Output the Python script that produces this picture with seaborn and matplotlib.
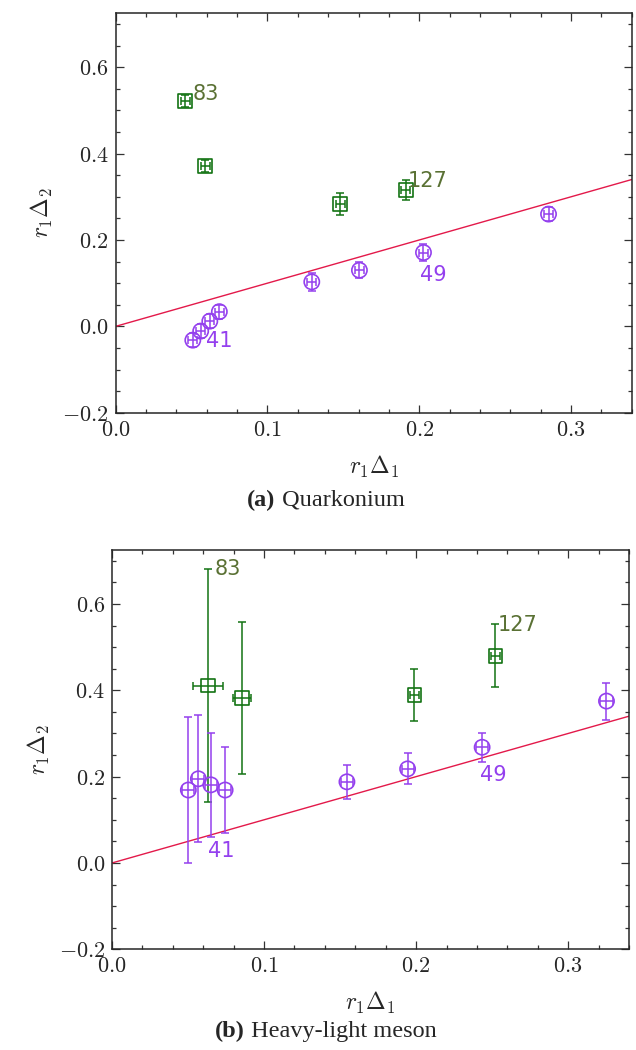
import numpy as np
import pandas as pd
import matplotlib
matplotlib.use("Agg")
import matplotlib.pyplot as plt
from matplotlib.ticker import MultipleLocator, FuncFormatter
import seaborn as sns

# ---------------- data ----------------
# (a) Quarkonium
qa_sq_x = [0.0457, 0.0589, 0.1479, 0.1912]
qa_sq_y = [0.522, 0.371, 0.283, 0.316]
qa_sq_xerr = [0.003, 0.003, 0.003, 0.003]
qa_sq_yerr = [0.014, 0.014, 0.025, 0.023]

qa_ci_x = [0.0508, 0.0560, 0.0620, 0.0683, 0.1292, 0.1606, 0.2028, 0.2852]
qa_ci_y = [-0.032, -0.011, 0.012, 0.034, 0.103, 0.130, 0.171, 0.260]
qa_ci_xerr = [0.003, 0.003, 0.003, 0.003, 0.003, 0.003, 0.003, 0.003]
qa_ci_yerr = [0.016, 0.016, 0.016, 0.016, 0.021, 0.018, 0.019, 0.016]

# (b) Heavy-light meson
hl_sq_x = [0.0630, 0.0856, 0.1988, 0.2521]
hl_sq_y = [0.411, 0.382, 0.389, 0.480]
hl_sq_xerr = [0.010, 0.0057, 0.003, 0.003]
hl_sq_yerr = [0.270, 0.177, 0.061, 0.073]

hl_ci_x = [0.0502, 0.0568, 0.0650, 0.0744, 0.1545, 0.1944, 0.2434, 0.3252]
hl_ci_y = [0.169, 0.195, 0.181, 0.169, 0.188, 0.218, 0.268, 0.375]
hl_ci_xerr = [0.004, 0.004, 0.004, 0.004, 0.004, 0.004, 0.004, 0.004]
hl_ci_yerr = [0.170, 0.147, 0.121, 0.100, 0.040, 0.036, 0.034, 0.043]

line_slope = 1.0

sq_labels = ["83", "127"]
ci_labels = ["41", "49"]
caption_tags = ["(a)", "(b)"]
caption_names = ["Quarkonium", "Heavy-light meson"]

# ---------------- style ----------------
sns.set_style("ticks")
plt.rcParams["font.family"] = ["DejaVu Sans"]
plt.rcParams["mathtext.fontset"] = "cm"

GREEN = "#137313"
GREEN_TXT = "#5a7134"
PURPLE = "#9440ee"
RED = "#e3194a"

fig = plt.figure(figsize=(6.36, 10.5), dpi=100)
ax_a = fig.add_axes([115.7 / 636, 1 - 412.7 / 1050, (631.7 - 115.7) / 636, (412.7 - 13.3) / 1050])
ax_b = fig.add_axes([112 / 636, 1 - 949.3 / 1050, (629 - 112) / 636, (949.3 - 550) / 1050])

XLIM = (0.0, 0.34)
YLIM = (-0.2, 0.725)

fmt = FuncFormatter(lambda v, p: "$%.1f$" % v if abs(v) > 1e-9 else "$0.0$")


def draw(ax, sqx, sqy, sqxe, sqye, cix, ciy, cixe, ciye, lab_specs):
    xs = np.array(XLIM)
    line_df = pd.DataFrame({"x": xs, "y": line_slope * xs})
    sns.lineplot(data=line_df, x="x", y="y", ax=ax, color=RED, lw=1.0, zorder=1)

    ax.errorbar(sqx, sqy, xerr=sqxe, yerr=sqye, fmt="none", ecolor=GREEN,
                elinewidth=1.1, capsize=2.6, capthick=1.1, zorder=2)
    ax.errorbar(cix, ciy, xerr=cixe, yerr=ciye, fmt="none", ecolor=PURPLE,
                elinewidth=1.1, capsize=2.6, capthick=1.1, zorder=2)

    sq_df = pd.DataFrame({"x": sqx, "y": sqy})
    ci_df = pd.DataFrame({"x": cix, "y": ciy})
    sns.scatterplot(data=sq_df, x="x", y="y", ax=ax, marker="s", s=95,
                    facecolor="none", edgecolor=GREEN, linewidth=1.2, zorder=3)
    sns.scatterplot(data=ci_df, x="x", y="y", ax=ax, marker="o", s=120,
                    facecolor="none", edgecolor=PURPLE, linewidth=1.2, zorder=3)

    for text, x, y, dx, dy, col in lab_specs:
        ax.annotate(text, (x, y), xytext=(dx, dy), textcoords="offset pixels",
                    ha="left", va="baseline", color=col, fontsize=15,
                    family="DejaVu Sans")

    ax.set_xlim(*XLIM)
    ax.set_ylim(*YLIM)
    ax.xaxis.set_major_locator(MultipleLocator(0.1))
    ax.xaxis.set_minor_locator(MultipleLocator(0.02))
    ax.yaxis.set_major_locator(MultipleLocator(0.2))
    ax.yaxis.set_minor_locator(MultipleLocator(0.05))
    ax.xaxis.set_major_formatter(fmt)
    ax.yaxis.set_major_formatter(fmt)
    ax.tick_params(which="both", direction="in", top=True, right=True,
                   width=0.9, color="#333333")
    ax.tick_params(which="major", length=6, labelsize=16, pad=5)
    ax.tick_params(which="minor", length=3)
    for s in ax.spines.values():
        s.set_linewidth(1.1)
        s.set_visible(True)
    ax.set_xlabel(r"$r_1\Delta_1$", fontsize=17, labelpad=10)
    ax.set_ylabel(r"$r_1\Delta_2$", fontsize=17, labelpad=5)


draw(ax_a, qa_sq_x, qa_sq_y, qa_sq_xerr, qa_sq_yerr,
     qa_ci_x, qa_ci_y, qa_ci_xerr, qa_ci_yerr,
     [(sq_labels[0], qa_sq_x[0], qa_sq_y[0], 8, 1, GREEN_TXT),
      (sq_labels[1], qa_sq_x[3], qa_sq_y[3], 2, 3, GREEN_TXT),
      (ci_labels[0], qa_ci_x[0], qa_ci_y[0], 13, -7, PURPLE),
      (ci_labels[1], qa_ci_x[6], qa_ci_y[6], -3, -28, PURPLE)])

draw(ax_b, hl_sq_x, hl_sq_y, hl_sq_xerr, hl_sq_yerr,
     hl_ci_x, hl_ci_y, hl_ci_xerr, hl_ci_yerr,
     [(sq_labels[0], hl_sq_x[0], hl_sq_y[0] + hl_sq_yerr[0], 7, -6, GREEN_TXT),
      (sq_labels[1], hl_sq_x[3], hl_sq_y[3] + hl_sq_yerr[3], 2, -7, GREEN_TXT),
      (ci_labels[0], hl_ci_x[2], hl_ci_y[2], -3, -72, PURPLE),
      (ci_labels[1], hl_ci_x[6], hl_ci_y[6], -2, -34, PURPLE)])

# captions: bold tag + regular name, centred as a pair
renderer = fig.canvas.get_renderer()
for tag, name, yc in zip(caption_tags, caption_names, [500, 1031]):
    t1 = fig.text(0, 1 - yc / 1050, tag, fontsize=17.5, fontweight="bold",
                  family="Liberation Serif", va="center", ha="left")
    t2 = fig.text(0, 1 - yc / 1050, " " + name, fontsize=17.5,
                  family="Liberation Serif", va="center", ha="left")
    w1 = t1.get_window_extent(renderer).width
    w2 = t2.get_window_extent(renderer).width
    x0 = 326 - (w1 + w2) / 2
    t1.set_x(x0 / 636)
    t2.set_x((x0 + w1) / 636)

fig.savefig("out.png", dpi=100)
